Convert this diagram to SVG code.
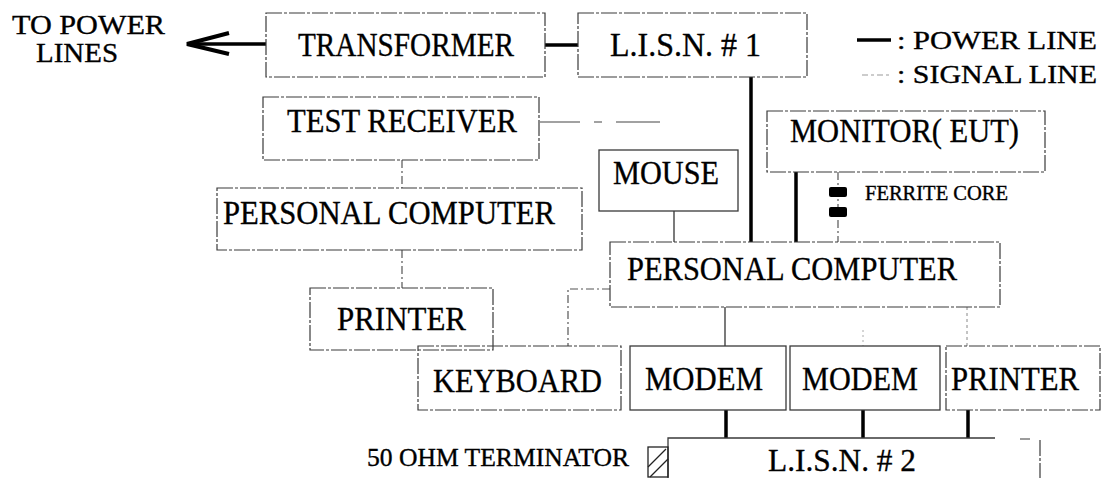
<svg xmlns="http://www.w3.org/2000/svg" width="1105" height="478" viewBox="0 0 1105 478">
<style>
text{font-family:"Liberation Serif","Times New Roman",serif;fill:#000;stroke:#000;stroke-width:0.35}
.t{font-size:34px}
.box{fill:none;stroke:#3a3a3a;stroke-width:1.2;stroke-dasharray:16 2 3 2}
.solid{fill:none;stroke:#3a3a3a;stroke-width:1.3}
.pw{stroke:#000;stroke-width:3.5;fill:none}
.sig{stroke:#555;stroke-width:1.2;fill:none;stroke-dasharray:8 3 2 3}
.thin{stroke:#222;stroke-width:1.2;fill:none}
</style>
<rect width="1105" height="478" fill="#fff"/>
<g id="power-label">
<text x="12" y="34" font-size="28" textLength="153" lengthAdjust="spacingAndGlyphs">TO POWER</text>
<text x="36" y="62" font-size="28" textLength="82" lengthAdjust="spacingAndGlyphs">LINES</text>
</g>
<g id="legend">
<line x1="857" y1="40" x2="891" y2="40" class="pw"/>
<text x="897" y="49" font-size="26" textLength="200" lengthAdjust="spacingAndGlyphs">: POWER LINE</text>
<line x1="862" y1="75" x2="890" y2="75" stroke="#999" stroke-width="1.2" stroke-dasharray="6 3 3 3"/>
<text x="897" y="83" font-size="26" textLength="200" lengthAdjust="spacingAndGlyphs">: SIGNAL LINE</text>
</g>
<g id="connectors">
<path d="M266,44 H190" class="pw"/>
<path d="M229,33 L187,44 L229,54" stroke="#000" stroke-width="4" fill="none"/>
<path d="M545,45 H578" class="pw"/>
<path d="M751,77 V242" class="pw"/>
<path d="M796,172 V242" class="pw"/>
<path d="M838,172 V242" class="sig"/>
<rect x="829" y="187" width="18" height="10" rx="2" fill="#000"/>
<rect x="829" y="207" width="18" height="10" rx="2" fill="#000"/>
<path d="M540,122 H660" stroke="#444" stroke-width="1.2" fill="none" stroke-dasharray="40 14 8 14 60"/>
<path d="M402,160 V188" class="sig"/>
<path d="M402,250 V288" class="sig"/>
<path d="M674,211 V242" class="thin"/>
<path d="M610,289 H568 V346" class="sig"/>
<path d="M725,307 V346" class="thin"/>
<path d="M863,330 V346" stroke="#aaa" stroke-width="1" stroke-dasharray="2 3" fill="none"/>
<path d="M967,307 V346" stroke="#888" stroke-width="1" stroke-dasharray="3 3" fill="none"/>
<path d="M726,410 V438" class="pw"/>
<path d="M863,410 V438" class="pw"/>
<path d="M968,410 V438" class="pw"/>
</g>
<g id="transformer">
<rect x="266" y="13" width="279" height="64" class="box"/>
<text class="t" x="298" y="56" textLength="216" lengthAdjust="spacingAndGlyphs">TRANSFORMER</text>
</g>
<g id="lisn1">
<rect x="578" y="13" width="229" height="64" class="box"/>
<text class="t" x="610" y="56" textLength="151" lengthAdjust="spacingAndGlyphs">L.I.S.N. # 1</text>
</g>
<g id="test-receiver">
<rect x="263" y="97" width="276" height="63" class="box"/>
<text class="t" x="287" y="132" textLength="230" lengthAdjust="spacingAndGlyphs">TEST RECEIVER</text>
</g>
<g id="monitor">
<rect x="767" y="111" width="278" height="61" class="box"/>
<text class="t" x="790" y="142" textLength="229" lengthAdjust="spacingAndGlyphs">MONITOR( EUT)</text>
</g>
<g id="ferrite-label">
<text x="865" y="200" font-size="20" textLength="143" lengthAdjust="spacingAndGlyphs" stroke-width="0.2">FERRITE CORE</text>
</g>
<g id="mouse">
<rect x="599" y="150" width="139" height="61" class="solid"/>
<text class="t" x="613" y="184" textLength="106" lengthAdjust="spacingAndGlyphs">MOUSE</text>
</g>
<g id="pc-left">
<rect x="217" y="188" width="365" height="62" class="box"/>
<text class="t" x="223" y="224" textLength="332" lengthAdjust="spacingAndGlyphs">PERSONAL COMPUTER</text>
</g>
<g id="printer-left">
<rect x="310" y="288" width="183" height="62" class="box"/>
<text class="t" x="337" y="330" textLength="129" lengthAdjust="spacingAndGlyphs">PRINTER</text>
</g>
<g id="pc-main">
<rect x="610" y="242" width="390" height="65" class="box"/>
<text class="t" x="627" y="280" textLength="330" lengthAdjust="spacingAndGlyphs">PERSONAL COMPUTER</text>
</g>
<g id="keyboard">
<rect x="418" y="346" width="203" height="64" class="box"/>
<text class="t" x="433" y="392" textLength="169" lengthAdjust="spacingAndGlyphs">KEYBOARD</text>
</g>
<g id="modem1">
<rect x="630" y="346" width="156" height="64" class="solid"/>
<text class="t" x="645" y="390" textLength="118" lengthAdjust="spacingAndGlyphs">MODEM</text>
</g>
<g id="modem2">
<rect x="790" y="346" width="150" height="64" class="solid"/>
<text class="t" x="802" y="390" textLength="116" lengthAdjust="spacingAndGlyphs">MODEM</text>
</g>
<g id="printer-right">
<rect x="946" y="346" width="154" height="64" class="box"/>
<text class="t" x="951" y="390" textLength="128" lengthAdjust="spacingAndGlyphs">PRINTER</text>
</g>
<g id="lisn2">
<path d="M668,490 V438 H995" class="solid"/>
<path d="M1020,439 H1030 M1040,440 V490" class="box"/>
<text x="768" y="471" font-size="32" textLength="148" lengthAdjust="spacingAndGlyphs">L.I.S.N. # 2</text>
</g>
<g id="terminator">
<rect x="648" y="447" width="20" height="30" fill="none" stroke="#222" stroke-width="1.3"/>
<line x1="648" y1="467" x2="666" y2="449" stroke="#222" stroke-width="1.2"/>
<line x1="650" y1="477" x2="668" y2="459" stroke="#222" stroke-width="1.2"/>
<text x="367" y="466" font-size="25" textLength="262" lengthAdjust="spacingAndGlyphs" stroke-width="0.25">50 OHM TERMINATOR</text>
</g>
</svg>
